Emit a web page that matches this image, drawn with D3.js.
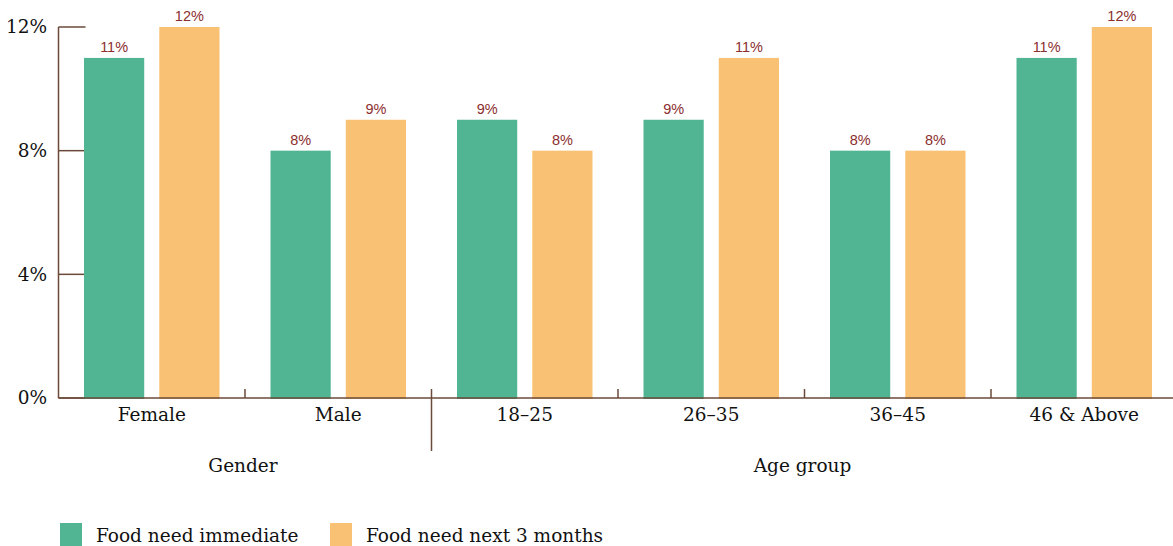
<!DOCTYPE html>
<html><head><meta charset="utf-8">
<script src="https://cdn.jsdelivr.net/npm/d3@7"></script>
<style>
html,body{margin:0;padding:0;background:#fff;}
svg{display:block;}
</style></head>
<body>
<svg id="chart" width="1173" height="546"></svg>
<script>
const categories = ["Female","Male","18–25","26–35","36–45","46 & Above"];
const groups = [{name:"Gender", from:0, to:1},{name:"Age group", from:2, to:5}];
const seriesNames = ["Food need immediate","Food need next 3 months"];
const immediate = [11, 8, 9, 9, 8, 11];
const next3 = [12, 9, 8, 11, 8, 12];
const yTicks = [0, 4, 8, 12];
const colors = ["#51b594", "#f9c174"];

(function(){
const svg = d3.select("#chart");
const axisColor = "#6b4a3a";
const serif = "Georgia, 'DejaVu Serif', 'Liberation Serif', serif";
const fs = 18.5;
const mLeft = 58.5, mBottom = 398, mTop = 27, mRight = 1177.5;

const x = d3.scaleBand().domain(categories).range([mLeft, mRight]).paddingInner(0).paddingOuter(0);
const xs = d3.scaleBand().domain(seriesNames).range([25.5, x.bandwidth()-25.5]).paddingInner(0.2);
const y = d3.scaleLinear().domain([0, 12]).range([mBottom, mTop]);

const data = [immediate, next3];

svg.append("line").attr("x1", mLeft).attr("x2", mLeft).attr("y1", mTop).attr("y2", mBottom)
  .attr("stroke", axisColor).attr("stroke-width", 1.5);
svg.selectAll(".yt").data(yTicks).enter().append("line")
  .attr("x1", mLeft).attr("x2", mLeft + 27).attr("y1", d => y(d)).attr("y2", d => y(d))
  .attr("stroke", axisColor).attr("stroke-width", 1.5);
svg.selectAll(".yl").data(yTicks).enter().append("text")
  .attr("x", 47).attr("y", d => y(d)).attr("dy", "0.35em").attr("text-anchor", "end")
  .attr("font-family", serif).attr("font-size", fs).attr("fill", "#111")
  .text(d => d + "%");

seriesNames.forEach((s, si) => {
  svg.selectAll(".bar" + si).data(categories).enter().append("rect")
    .attr("x", c => x(c) + xs(s)).attr("width", xs.bandwidth())
    .attr("y", (c, i) => y(data[si][i])).attr("height", (c, i) => mBottom + 1 - y(data[si][i]))
    .attr("fill", colors[si]);
  svg.selectAll(".lab" + si).data(categories).enter().append("text")
    .attr("x", c => x(c) + xs(s) + xs.bandwidth()/2)
    .attr("y", (c, i) => y(data[si][i]) - 6)
    .attr("text-anchor", "middle")
    .attr("font-family", "'Liberation Sans', Arial, sans-serif").attr("font-size", 14.5)
    .attr("fill", "#8b2e2e")
    .text((c, i) => data[si][i] + "%");
});

svg.append("line").attr("x1", mLeft).attr("x2", 1173).attr("y1", mBottom).attr("y2", mBottom)
  .attr("stroke", axisColor).attr("stroke-width", 1.5);
const seps = categories.slice(1).map((c, i) => ({x: x(c), group: groups.some(g => g.from === i + 1)}));
svg.selectAll(".xt").data(seps).enter().append("line")
  .attr("x1", d => d.x).attr("x2", d => d.x)
  .attr("y1", mBottom - 9).attr("y2", d => d.group ? 451 : mBottom)
  .attr("stroke", axisColor).attr("stroke-width", 1.5);
svg.selectAll(".xl").data(categories).enter().append("text")
  .attr("x", c => x(c) + x.bandwidth()/2).attr("y", 421)
  .attr("text-anchor", "middle").attr("font-family", serif).attr("font-size", fs).attr("fill", "#111")
  .text(c => c);
svg.selectAll(".gl").data(groups).enter().append("text")
  .attr("x", g => (x(categories[g.from]) + x(categories[g.to]) + x.bandwidth())/2 - 2).attr("y", 472)
  .attr("text-anchor", "middle").attr("font-family", serif).attr("font-size", fs).attr("fill", "#111")
  .text(g => g.name);

const legX = [60, 330];
seriesNames.forEach((s, si) => {
  svg.append("rect").attr("x", legX[si]).attr("y", 523).attr("width", 22).attr("height", 23).attr("fill", colors[si]);
  svg.append("text").attr("x", legX[si] + 36).attr("y", 542)
    .attr("font-family", serif).attr("font-size", fs).attr("fill", "#111").text(s);
});
})();
</script>
</body></html>
